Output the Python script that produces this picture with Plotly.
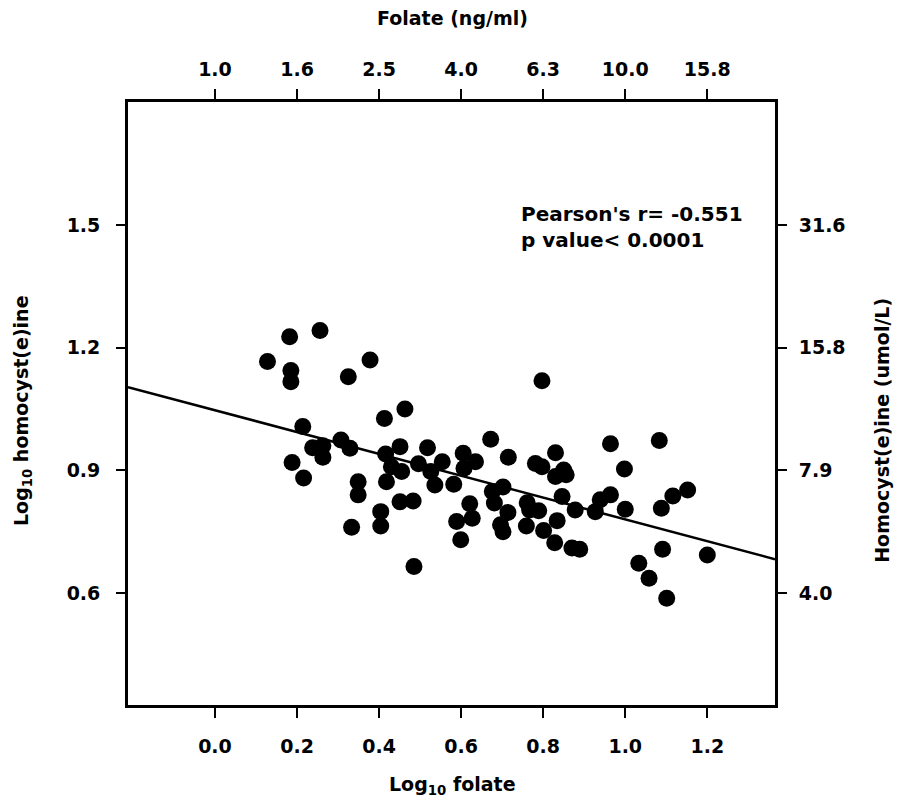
import plotly.graph_objects as go

# --- data ---
log_folate = [0.256, 0.182, 0.128, 0.185, 0.185, 0.325, 0.378, 0.463, 0.413, 0.214,
              0.238, 0.263, 0.263, 0.307, 0.329, 0.188, 0.216, 0.416, 0.451, 0.518,
              0.430, 0.455, 0.496, 0.526, 0.554, 0.536, 0.349, 0.349, 0.418, 0.451,
              0.483, 0.404, 0.404, 0.333, 0.485,
              0.797, 0.582, 0.605, 0.635, 0.607, 0.672, 0.715, 0.781, 0.797, 0.830,
              0.850, 0.830, 0.856, 0.964, 1.083, 0.998, 0.676, 0.702, 0.681, 0.714,
              0.621, 0.627, 0.589, 0.599, 0.696, 0.702, 0.761, 0.789, 0.767, 0.759,
              0.801, 0.834, 0.828, 0.870, 0.889, 0.846, 0.878, 0.927, 0.939, 0.964,
              1.000, 1.116, 1.152, 1.088, 1.091, 1.200, 1.033, 1.058, 1.101]
log_hcy = [1.242, 1.227, 1.166, 1.144, 1.117, 1.129, 1.170, 1.050, 1.027, 1.007,
           0.955, 0.960, 0.932, 0.974, 0.954, 0.919, 0.881, 0.940, 0.958, 0.955,
           0.909, 0.897, 0.916, 0.897, 0.921, 0.864, 0.872, 0.840, 0.872, 0.823,
           0.825, 0.799, 0.764, 0.761, 0.665,
           1.119, 0.866, 0.942, 0.921, 0.905, 0.976, 0.932, 0.917, 0.909, 0.943,
           0.901, 0.885, 0.889, 0.965, 0.973, 0.903, 0.848, 0.859, 0.820, 0.797,
           0.818, 0.783, 0.775, 0.730, 0.767, 0.750, 0.821, 0.801, 0.803, 0.764,
           0.753, 0.777, 0.723, 0.710, 0.707, 0.836, 0.803, 0.799, 0.828, 0.840,
           0.805, 0.837, 0.852, 0.807, 0.707, 0.693, 0.673, 0.636, 0.587]

fit_intercept = 1.047
fit_slope = -0.267

x_tickvals = [0.0, 0.2, 0.4, 0.6, 0.8, 1.0, 1.2]
x_ticktext = ["0.0", "0.2", "0.4", "0.6", "0.8", "1.0", "1.2"]
top_ticktext = ["1.0", "1.6", "2.5", "4.0", "6.3", "10.0", "15.8"]
y_tickvals = [0.6, 0.9, 1.2, 1.5]
y_ticktext = ["0.6", "0.9", "1.2", "1.5"]
right_ticktext = ["4.0", "7.9", "15.8", "31.6"]

x_range = [-0.212, 1.365]
y_range = [0.326, 1.801]

FONT = "DejaVu Sans, sans-serif"

fig = go.Figure()

fig.add_trace(go.Scatter(
    x=log_folate, y=log_hcy, mode="markers",
    marker=dict(size=17, color="black", line=dict(width=0)),
    showlegend=False, hoverinfo="skip"))

fig.add_trace(go.Scatter(
    x=[x_range[0], x_range[1]],
    y=[fit_intercept + fit_slope * x_range[0], fit_intercept + fit_slope * x_range[1]],
    mode="lines", line=dict(color="black", width=2.5),
    showlegend=False, hoverinfo="skip"))

# invisible trace to activate secondary axes
fig.add_trace(go.Scatter(x=[None], y=[None], xaxis="x2", yaxis="y2",
                         mode="markers", showlegend=False, hoverinfo="skip"))

tickfont = dict(family=FONT, size=19, color="black", weight="bold")

axis_common = dict(showgrid=False, zeroline=False, showline=True,
                   linecolor="black", linewidth=2.8, ticks="outside",
                   tickcolor="black", tickwidth=2, tickfont=tickfont)

fig.update_layout(
    width=897, height=804,
    margin=dict(l=128, r=122, t=102, b=99),
    paper_bgcolor="white", plot_bgcolor="white",
    xaxis=dict(range=x_range, tickvals=x_tickvals, ticktext=x_ticktext,
               ticklen=10, ticklabelstandoff=12, **axis_common),
    xaxis2=dict(range=x_range, tickvals=x_tickvals, ticktext=top_ticktext,
                overlaying="x", side="top", anchor="y",
                ticklen=10, ticklabelstandoff=6, **axis_common),
    yaxis=dict(range=y_range, tickvals=y_tickvals, ticktext=y_ticktext,
               ticklen=9, ticklabelstandoff=12, **axis_common),
    yaxis2=dict(range=y_range, tickvals=y_tickvals, ticktext=right_ticktext,
                overlaying="y", side="right", anchor="x",
                ticklen=9, ticklabelstandoff=8, **axis_common),
)

title_font = dict(family=FONT, size=19, color="black", weight="bold")

fig.add_annotation(text="Folate (ng/ml)", xref="paper", yref="paper",
                   x=0.502, y=1.139, showarrow=False, font=title_font,
                   xanchor="center", yanchor="middle")
fig.add_annotation(text="Log<sub>10</sub> folate", xref="paper", yref="paper",
                   x=0.502, y=-0.133, showarrow=False, font=title_font,
                   xanchor="center", yanchor="middle")
fig.add_annotation(text="Log<sub>10</sub> homocyst(e)ine", xref="paper", yref="paper",
                   x=-0.164, y=0.489, showarrow=False, font=title_font,
                   textangle=-90, xanchor="center", yanchor="middle")
fig.add_annotation(text="Homocyst(e)ine (umol/L)", xref="paper", yref="paper",
                   x=1.165, y=0.456, showarrow=False, font=title_font,
                   textangle=-90, xanchor="center", yanchor="middle")
fig.add_annotation(text="Pearson's r= -0.551<br>p value< 0.0001",
                   xref="x", yref="y", x=0.740, y=1.495, showarrow=False,
                   font=dict(family=FONT, size=20, color="black", weight="bold"),
                   align="left", xanchor="left", yanchor="middle")

fig.write_html("out.html")
